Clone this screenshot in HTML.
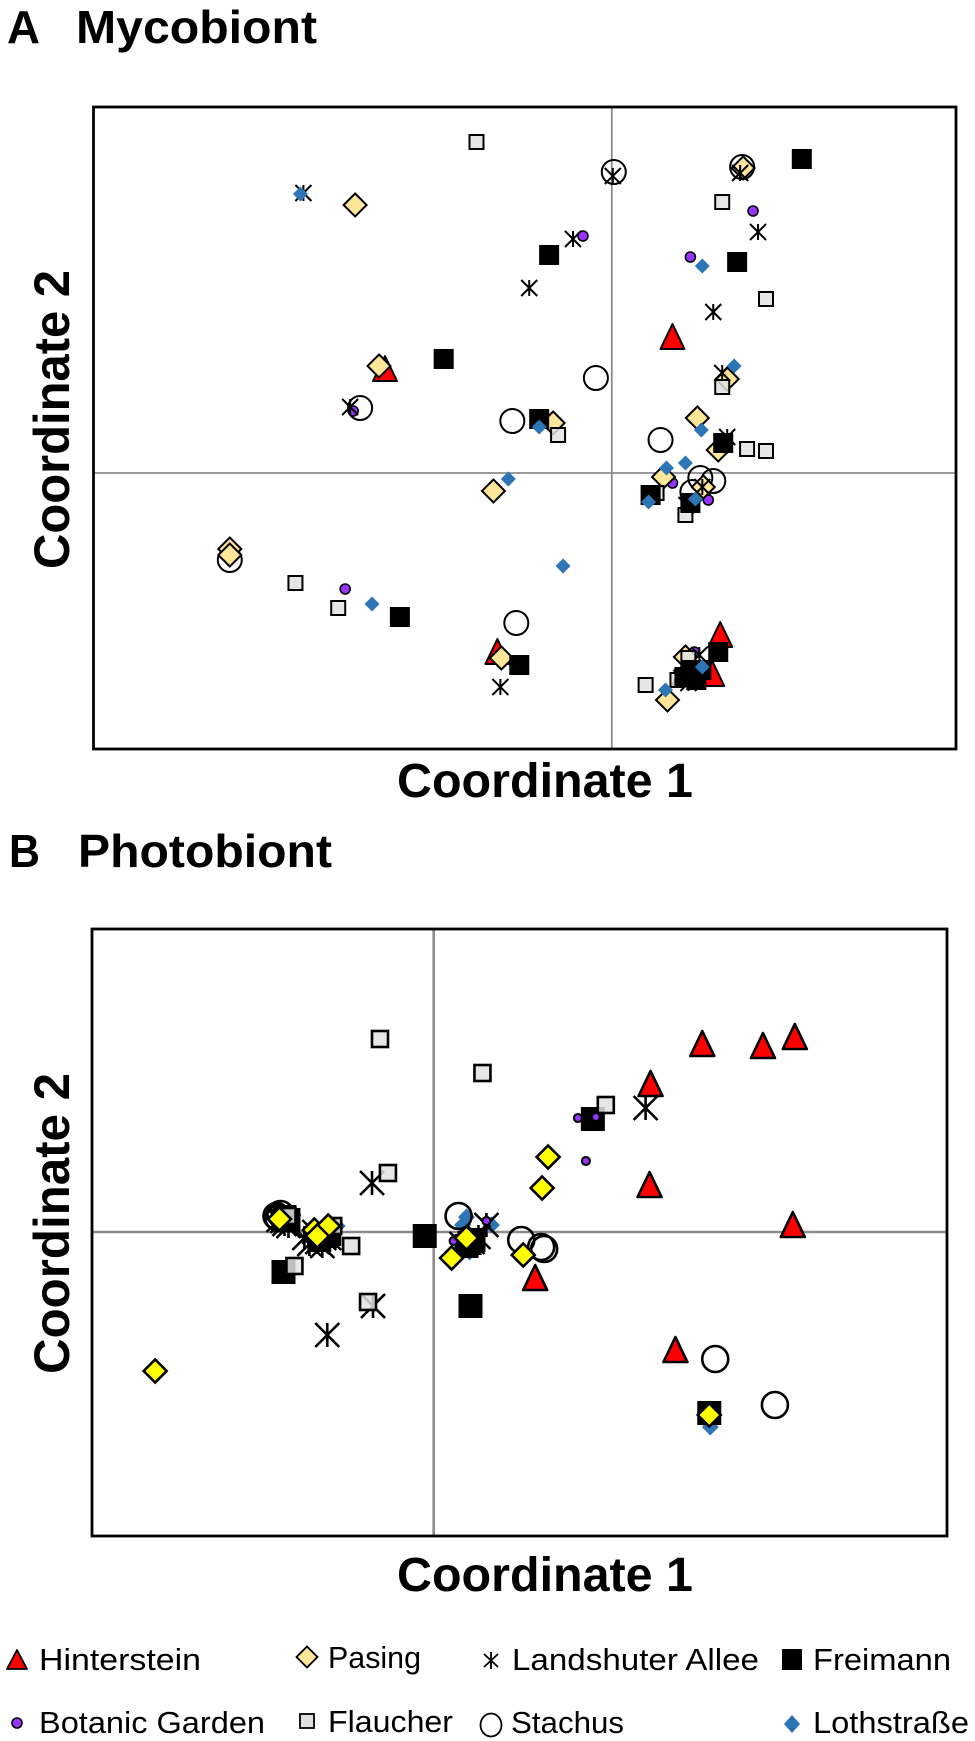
<!DOCTYPE html>
<html lang="en">
<head>
<meta charset="utf-8">
<title>Mycobiont and Photobiont ordination</title>
<style>
html,body{margin:0;padding:0;background:#fff;}
svg{display:block;}
text{font-family:"Liberation Sans",sans-serif;fill:#000;}
.head{font-weight:bold;font-size:46px;}
.axis{font-weight:bold;font-size:48px;}
.yaxis{font-weight:bold;font-size:50px;}
.leg{font-size:31px;}
</style>
</head>
<body>
<svg id="chart" xmlns="http://www.w3.org/2000/svg" width="975" height="1741" viewBox="0 0 975 1741">
  <rect x="0" y="0" width="975" height="1741" fill="#fff"/>
  <text class="head" x="7" y="43" textLength="33" lengthAdjust="spacingAndGlyphs">A</text>
  <text class="head" x="76" y="43" textLength="241" lengthAdjust="spacingAndGlyphs">Mycobiont</text>
  <text class="head" x="9" y="867" textLength="31" lengthAdjust="spacingAndGlyphs">B</text>
  <text class="head" x="78" y="867" textLength="254" lengthAdjust="spacingAndGlyphs">Photobiont</text>
  <g id="panelA"></g>
  <g id="panelB"></g>
  <text class="axis" x="397" y="797" textLength="296" lengthAdjust="spacingAndGlyphs">Coordinate 1</text>
  <text class="yaxis" transform="translate(69,569) rotate(-90)" textLength="299" lengthAdjust="spacingAndGlyphs">Coordinate 2</text>
  <text class="axis" x="397" y="1591" textLength="296" lengthAdjust="spacingAndGlyphs">Coordinate 1</text>
  <text class="yaxis" transform="translate(69,1374) rotate(-90)" textLength="301" lengthAdjust="spacingAndGlyphs">Coordinate 2</text>
  <g id="legend">
    <g>
      <path d="M17 1650 L27 1669 L7 1669 Z" fill="#f00" stroke="#000" stroke-width="1.8" stroke-linejoin="round"/>
      <text class="leg" x="39" y="1670" textLength="162" lengthAdjust="spacingAndGlyphs">Hinterstein</text>
    </g>
    <g>
      <path d="M307 1646.5 L317.5 1657 L307 1667.5 L296.5 1657 Z" fill="#ffe699" stroke="#000" stroke-width="1.8"/>
      <text class="leg" x="328" y="1668" textLength="93" lengthAdjust="spacingAndGlyphs">Pasing</text>
    </g>
    <g>
      <path d="M491 1652 V1669 M484 1654 L498 1667 M498 1654 L484 1667" fill="none" stroke="#000" stroke-width="1.8"/>
      <text class="leg" x="512" y="1670" textLength="247" lengthAdjust="spacingAndGlyphs">Landshuter Allee</text>
    </g>
    <g>
      <rect x="782" y="1649" width="20" height="21" fill="#000"/>
      <text class="leg" x="813" y="1670" textLength="138" lengthAdjust="spacingAndGlyphs">Freimann</text>
    </g>
    <g>
      <circle cx="17" cy="1723" r="5" fill="#9933ff" stroke="#000" stroke-width="1.6"/>
      <text class="leg" x="39" y="1733" textLength="226" lengthAdjust="spacingAndGlyphs">Botanic Garden</text>
    </g>
    <g>
      <rect x="300" y="1714" width="14" height="14" fill="#e0e0e0" stroke="#000" stroke-width="1.8"/>
      <text class="leg" x="328" y="1732" textLength="125" lengthAdjust="spacingAndGlyphs">Flaucher</text>
    </g>
    <g>
      <ellipse cx="491" cy="1725" rx="10.5" ry="11.5" fill="#fff" stroke="#000" stroke-width="1.8"/>
      <text class="leg" x="511" y="1733" textLength="113" lengthAdjust="spacingAndGlyphs">Stachus</text>
    </g>
    <g>
      <path d="M792 1715 L800 1724 L792 1733 L784 1724 Z" fill="#2e75b6"/>
      <text class="leg" x="813" y="1733" textLength="156" lengthAdjust="spacingAndGlyphs">Lothstraße</text>
    </g>
  </g>
</svg>
<script>
// Panel A (mycobiont) ordination scores, coordinate 1 and coordinate 2 per site
const mycoHintersteinC1 = [0.061,-0.228,-0.115,0.109,0.101,0.073,0.079];
const mycoHintersteinC2 = [0.136,0.104,-0.179,-0.162,-0.201,-0.200,-0.192];
const mycoPasingC1 = [-0.258,0.132,-0.234,0.116,-0.059,0.086,0.107,0.052,0.092,-0.119,-0.384,-0.384,-0.111,0.074,0.056];
const mycoPasingC2 = [0.268,0.305,0.107,0.094,0.050,0.055,0.023,-0.004,-0.014,-0.018,-0.076,-0.082,-0.185,-0.184,-0.227];
const mycoLandshuterC1 = [-0.310,0.129,0.001,-0.039,0.147,-0.083,0.102,0.111,-0.263,0.116,0.091,0.075,-0.112,0.088,0.077,0.082,0.070];
const mycoLandshuterC2 = [0.280,0.300,0.297,0.234,0.241,0.185,0.161,0.100,0.066,0.036,-0.014,-0.032,-0.214,-0.182,-0.210,-0.195,-0.205];
const mycoFreimannC1 = [0.191,-0.063,0.126,-0.169,-0.073,0.112,0.039,0.079,-0.213,-0.093,0.107,0.085,0.073,0.090,0.080];
const mycoFreimannC2 = [0.314,0.218,0.211,0.114,0.054,0.030,-0.022,-0.030,-0.144,-0.192,-0.179,-0.207,-0.204,-0.197,-0.197];
const mycoBotanicC1 = [0.142,-0.029,0.079,-0.260,0.061,0.097,-0.268,0.083];
const mycoBotanicC2 = [0.262,0.237,0.216,0.062,-0.010,-0.027,-0.116,-0.179];
const mycoFlaucherC1 = [-0.136,0.111,0.155,0.111,-0.054,0.136,0.155,0.045,0.074,-0.318,-0.275,0.034,0.066,0.077];
const mycoFlaucherC2 = [0.331,0.271,0.174,0.086,0.038,0.024,0.022,-0.020,-0.042,-0.110,-0.135,-0.212,-0.207,-0.185];
const mycoStachusC1 = [0.131,0.002,-0.016,-0.253,-0.100,0.049,0.089,0.102,0.081,-0.384,-0.096];
const mycoStachusC2 = [0.306,0.301,0.095,0.065,0.052,0.033,-0.005,-0.008,-0.019,-0.087,-0.150];
const mycoLothC1 = [-0.313,0.091,0.123,-0.073,0.090,0.055,0.074,-0.104,0.037,0.084,-0.049,-0.241,0.091,0.054];
const mycoLothC2 = [0.279,0.207,0.107,0.046,0.043,0.005,0.010,-0.006,-0.029,-0.026,-0.093,-0.131,-0.194,-0.217];

// Panel B (photobiont) ordination scores
const photoHintersteinC1 = [0.270,0.331,0.363,0.218,0.217,0.361,0.102,0.243];
const photoHintersteinC2 = [0.188,0.186,0.195,0.148,0.047,0.007,-0.046,-0.118];
const photoPasingC1 = [0.115,0.109,-0.155,-0.120,-0.106,-0.117,0.033,0.018,0.090,-0.280,0.277];
const photoPasingC2 = [0.075,0.044,0.013,0.002,0.006,-0.004,-0.006,-0.026,-0.023,-0.139,-0.183];
const photoLandshuterC1 = [0.213,-0.062,-0.061,-0.107,0.053,0.039,-0.152,-0.117,-0.105,-0.130,-0.150,-0.156,-0.146,-0.125,-0.112,-0.110,-0.120,0.028,0.045];
const photoLandshuterC2 = [0.124,0.049,-0.074,-0.103,0.007,-0.010,0.011,-0.010,-0.006,-0.006,0.008,0.012,0.006,-0.012,-0.014,-0.006,0.000,-0.012,-0.005];
const photoFreimannC1 = [0.160,-0.009,-0.151,0.037,0.277,-0.150,-0.108,0.036,-0.146,-0.115,-0.105,0.040,0.033];
const photoFreimannC2 = [0.113,-0.004,-0.040,-0.074,-0.181,0.015,-0.004,-0.011,0.012,-0.008,-0.002,-0.008,-0.014];
const photoBotanicC1 = [0.145,0.163,0.153,0.053,0.020];
const photoBotanicC2 = [0.114,0.115,0.071,0.011,-0.009];
const photoFlaucherC1 = [-0.054,0.049,0.173,-0.046,-0.083,-0.140,-0.066,-0.101,-0.147];
const photoFlaucherC2 = [0.193,0.159,0.127,0.059,-0.014,-0.034,-0.070,0.006,0.016];
const photoStachusC1 = [-0.158,-0.156,-0.154,0.025,0.088,0.108,0.111,0.283,0.343];
const photoStachusC2 = [0.016,0.014,0.018,0.016,-0.008,-0.015,-0.017,-0.127,-0.173];
const photoLothC1 = [0.033,0.058,0.036,-0.097,0.278,0.029];
const photoLothC2 = [0.015,0.007,-0.020,0.006,-0.195,0.007];

const NS = 'http://www.w3.org/2000/svg';

function makeScale(domainMin, domainMax, pxA, pxB) {
  return function (v) { return pxA + (v - domainMin) / (domainMax - domainMin) * (pxB - pxA); };
}

function shape(tag, attrs) {
  const el = document.createElementNS(NS, tag);
  for (const k in attrs) el.setAttribute(k, attrs[k]);
  return el;
}

function drawMarker(kind, cx, cy, s, parent, label) {
  let el;
  if (kind === 'triangle') {
    const h = s.tri / 2;
    el = shape('path', { d: `M${cx} ${cy - h - 1} L${cx + h} ${cy + h} L${cx - h} ${cy + h} Z`, fill: '#f00', stroke: '#000', 'stroke-width': s.sw, 'stroke-linejoin': 'round' });
  } else if (kind === 'diamond') {
    const h = s.dia / 2;
    el = shape('path', { d: `M${cx} ${cy - h} L${cx + h} ${cy} L${cx} ${cy + h} L${cx - h} ${cy} Z`, fill: s.diaFill, stroke: '#000', 'stroke-width': s.sw, 'stroke-linejoin': 'miter' });
  } else if (kind === 'star') {
    const h = s.star / 2;
    el = shape('path', { d: `M${cx} ${cy - h} V${cy + h} M${cx - h} ${cy - h} L${cx + h} ${cy + h} M${cx + h} ${cy - h} L${cx - h} ${cy + h}`, fill: 'none', stroke: '#000', 'stroke-width': s.sw });
  } else if (kind === 'black') {
    const h = s.blk / 2;
    el = shape('rect', { x: cx - h, y: cy - h, width: s.blk, height: s.blk, fill: '#000' });
  } else if (kind === 'dot') {
    el = shape('circle', { cx: cx, cy: cy, r: s.dot, fill: '#9933ff', stroke: '#000', 'stroke-width': s.sw * 0.8 });
  } else if (kind === 'gray') {
    const h = s.gry / 2;
    el = shape('rect', { x: cx - h, y: cy - h, width: s.gry, height: s.gry, fill: '#e2e2e2', 'fill-opacity': 0.85, stroke: '#000', 'stroke-width': s.sw });
  } else if (kind === 'ring') {
    el = shape('circle', { cx: cx, cy: cy, r: s.ring, fill: 'none', stroke: '#000', 'stroke-width': s.sw });
  } else {
    const h = s.blu / 2;
    el = shape('path', { d: `M${cx} ${cy - h} L${cx + h} ${cy} L${cx} ${cy + h} L${cx - h} ${cy} Z`, fill: '#2e75b6' });
  }
  
  
  parent.appendChild(el);
}

function drawPanel(parentId, box, xDomain, yDomain, style, series, prefix) {
  const g = document.getElementById(parentId);
  const xScale = makeScale(xDomain[0], xDomain[1], box.left, box.right);
  const yScale = makeScale(yDomain[0], yDomain[1], box.bottom, box.top);

  const vZero = shape('line', { x1: xScale(0), x2: xScale(0), y1: box.top, y2: box.bottom, stroke: '#8c8c8c', 'stroke-width': style.grid });
  
  
  g.appendChild(vZero);

  const hZero = shape('line', { x1: box.left, x2: box.right, y1: yScale(0), y2: yScale(0), stroke: '#8c8c8c', 'stroke-width': style.grid });
  
  
  g.appendChild(hZero);

  series.forEach(function (sr) {
    const group = document.createElementNS(NS, 'g');
    
    
    g.appendChild(group);
    sr.c1.forEach(function (v, i) {
      drawMarker(sr.kind, xScale(v), yScale(sr.c2[i]), style, group, prefix + '-point-' + sr.name);
    });
  });

  const frame = shape('rect', { x: box.left, y: box.top, width: box.right - box.left, height: box.bottom - box.top, fill: 'none', stroke: '#000', 'stroke-width': 2.8 });
  
  
  g.appendChild(frame);
}

drawPanel('panelA',
  { left: 93.5, right: 956, top: 107, bottom: 749 },
  [-0.521, 0.346], [-0.276, 0.366],
  { tri: 24, dia: 23, diaFill: '#ffe699', star: 16, blk: 20, dot: 5, gry: 14, ring: 12, blu: 15, sw: 2, grid: 1.8 },
  [
    { name: 'hinterstein', kind: 'triangle', c1: mycoHintersteinC1, c2: mycoHintersteinC2 },
    { name: 'botanic-garden', kind: 'dot', c1: mycoBotanicC1, c2: mycoBotanicC2 },
    { name: 'stachus', kind: 'ring', c1: mycoStachusC1, c2: mycoStachusC2 },
    { name: 'pasing', kind: 'diamond', c1: mycoPasingC1, c2: mycoPasingC2 },
    { name: 'landshuter-allee', kind: 'star', c1: mycoLandshuterC1, c2: mycoLandshuterC2 },
    { name: 'flaucher', kind: 'gray', c1: mycoFlaucherC1, c2: mycoFlaucherC2 },
    { name: 'freimann', kind: 'black', c1: mycoFreimannC1, c2: mycoFreimannC2 },
    { name: 'lothstrasse', kind: 'blue', c1: mycoLothC1, c2: mycoLothC2 }
  ], 'panel-a');

drawPanel('panelB',
  { left: 92, right: 947, top: 929, bottom: 1536 },
  [-0.3435, 0.516], [-0.304, 0.303],
  { tri: 24, dia: 23, diaFill: '#ffff00', star: 24, blk: 24, dot: 4, gry: 16, ring: 13, blu: 17, sw: 2.6, grid: 2.6 },
  [
    { name: 'lothstrasse', kind: 'blue', c1: photoLothC1, c2: photoLothC2 },
    { name: 'stachus', kind: 'ring', c1: photoStachusC1, c2: photoStachusC2 },
    { name: 'hinterstein', kind: 'triangle', c1: photoHintersteinC1, c2: photoHintersteinC2 },
    { name: 'landshuter-allee', kind: 'star', c1: photoLandshuterC1, c2: photoLandshuterC2 },
    { name: 'freimann', kind: 'black', c1: photoFreimannC1, c2: photoFreimannC2 },
    { name: 'flaucher', kind: 'gray', c1: photoFlaucherC1, c2: photoFlaucherC2 },
    { name: 'botanic-garden', kind: 'dot', c1: photoBotanicC1, c2: photoBotanicC2 },
    { name: 'pasing', kind: 'diamond', c1: photoPasingC1, c2: photoPasingC2 }
  ], 'panel-b');
</script>
</body>
</html>
